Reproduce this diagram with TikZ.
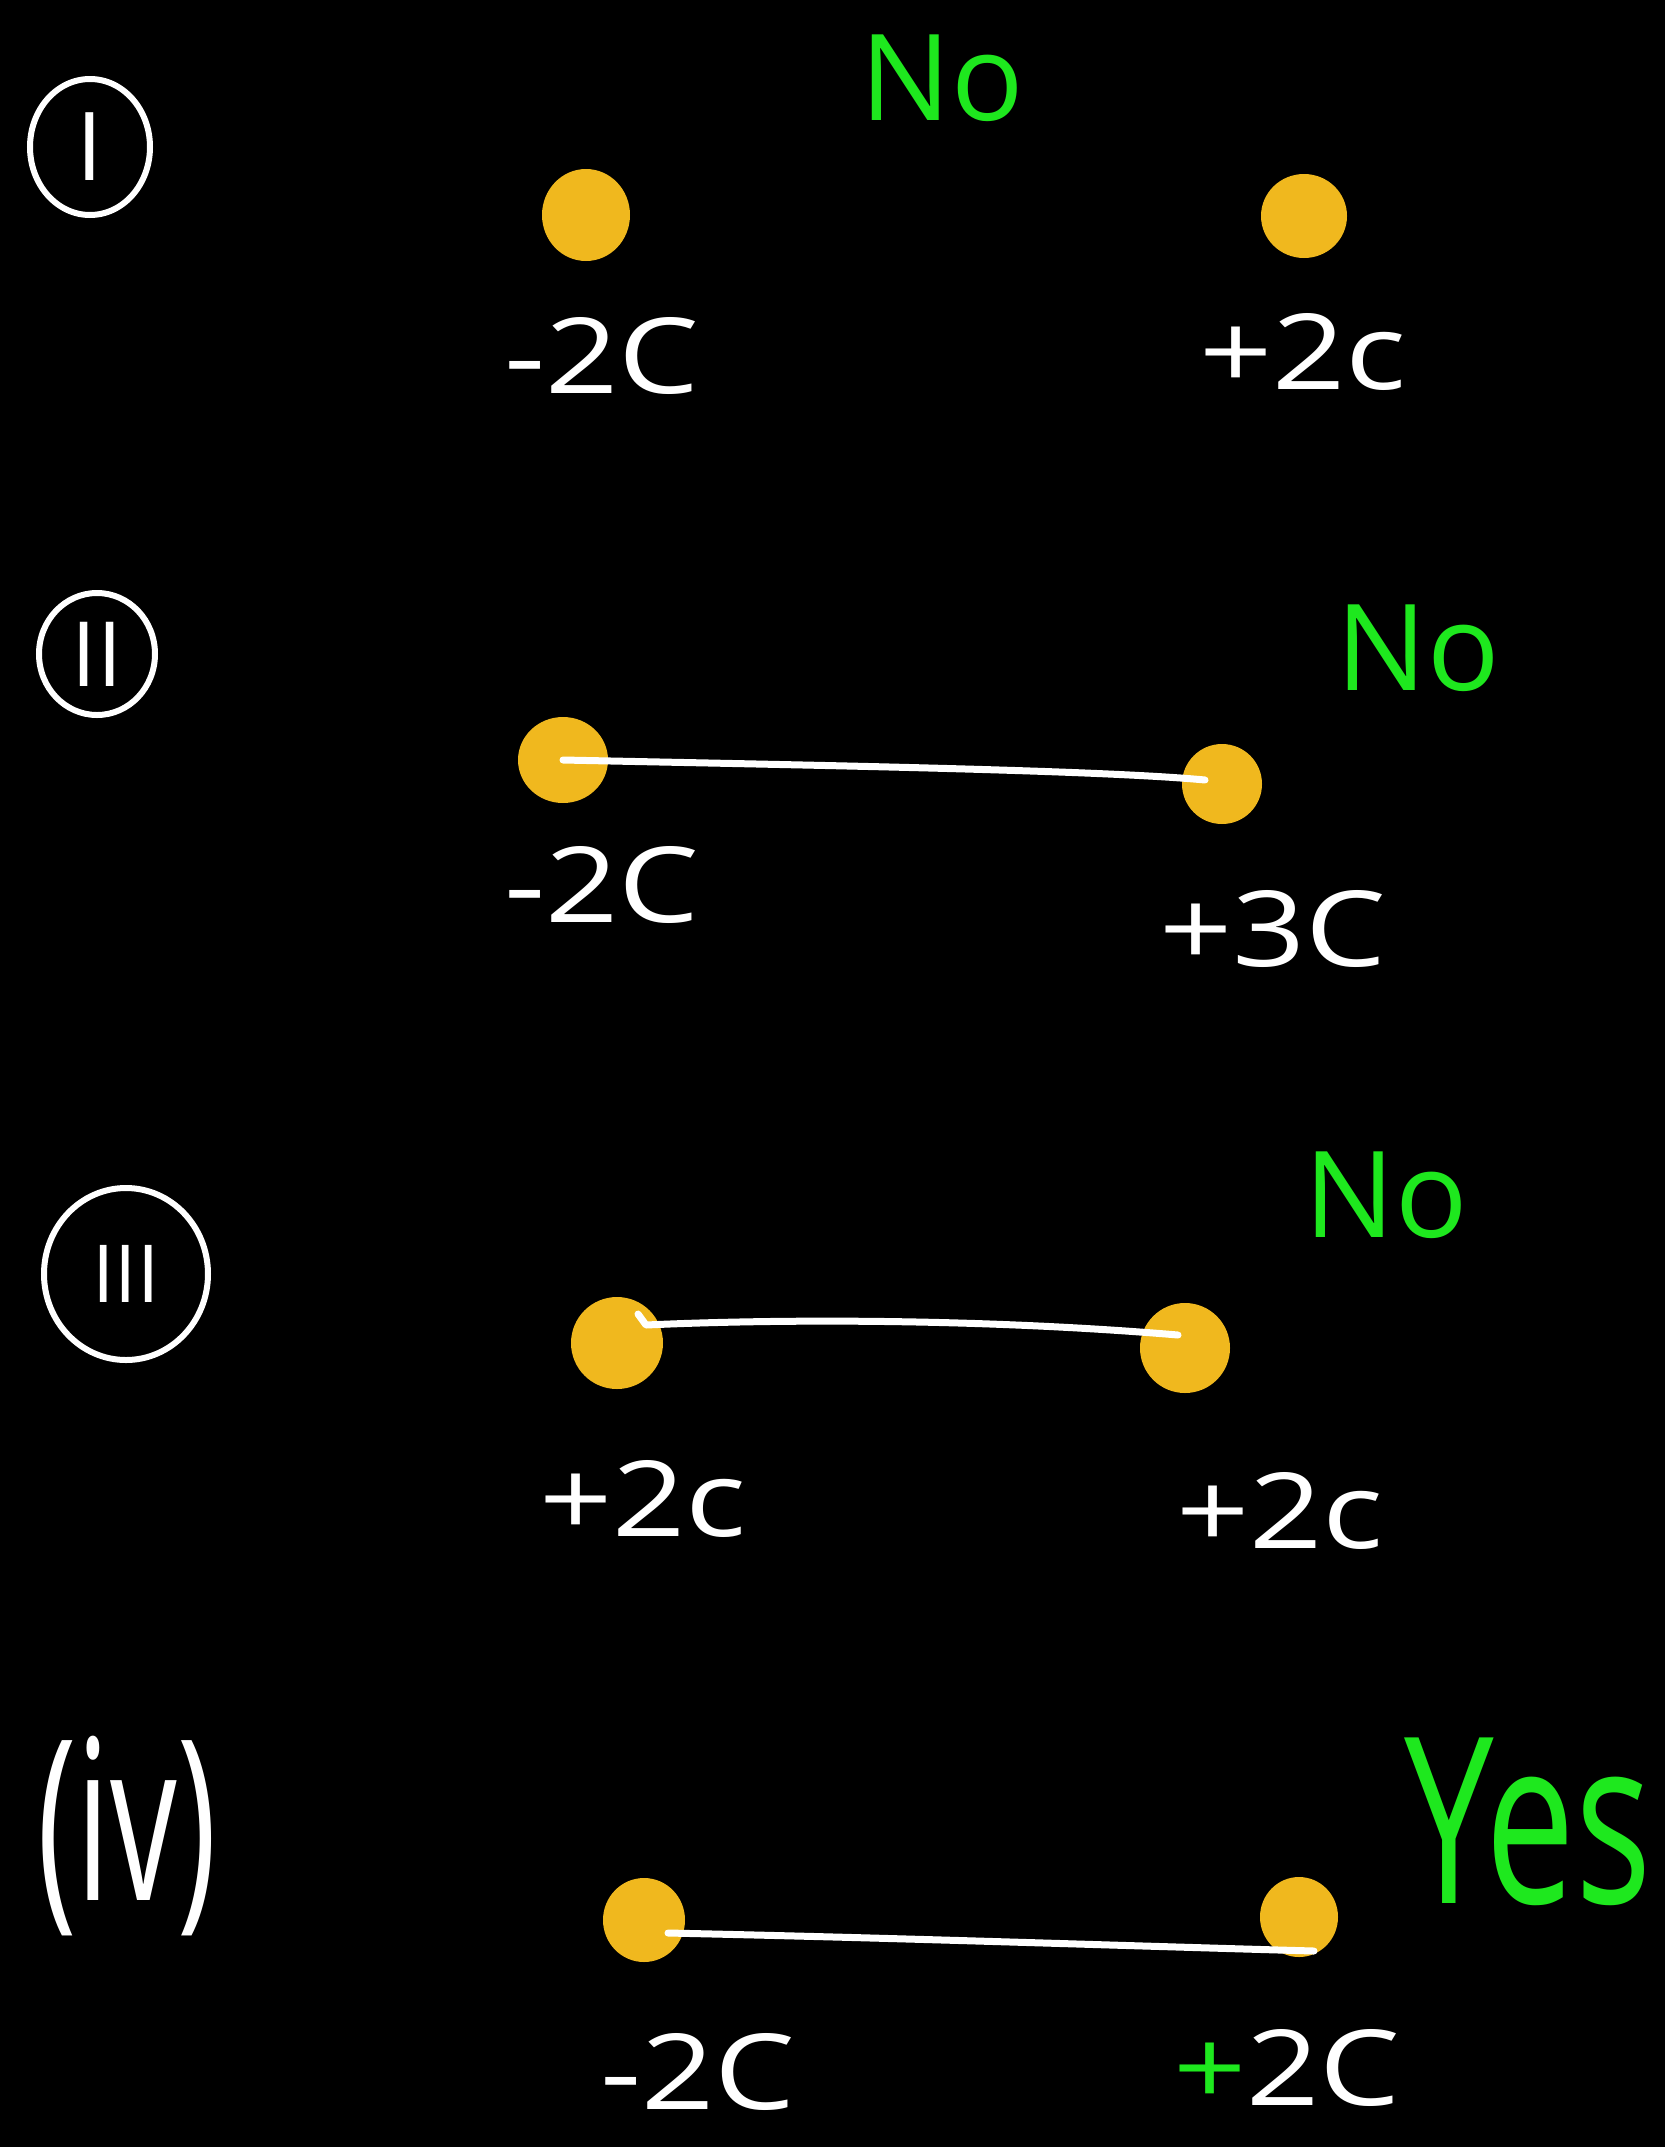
\documentclass[tikz,border=0pt]{standalone}
\usepackage{fontspec}
\setmainfont{Open Sans}
\usetikzlibrary{shapes.geometric}
\definecolor{chg}{HTML}{F0B81E}
\definecolor{ink}{HTML}{1EE81E}
\newcommand\myfs[1]{\fontsize{#1}{#1}\selectfont}
\newcommand\wide[1]{\scalebox{1.22}[1]{#1}}
\begin{document}
\begin{tikzpicture}[x=1pt,y=-1pt,
 dot/.style={ellipse, fill=chg, inner sep=0pt},
 wire/.style={white, line width=7pt, line cap=round, line join=round},
 lab/.style={white, inner sep=0pt, font=\myfs{105}},
 verdict/.style={ink, inner sep=0pt, font=\myfs{120}},
 numring/.style={ellipse, draw=white, line width=6pt, text=white, inner sep=0pt}]
\fill[black] (0,0) rectangle (1665,2147);
\useasboundingbox (0,0) rectangle (1665,2147);

% row 1
\node[numring, minimum width=120, minimum height=136, font=\myfs{95}] (n1) at (90,147) {I};
\node[dot, minimum width=88, minimum height=92] (d1a) at (586,215) {};
\node[dot, minimum width=86, minimum height=84] (d1b) at (1304,216) {};
\node[lab] (l1a) at (602,356) {\wide{-2C}};
\node[lab] (l1b) at (1303,352) {\wide{+2c}};
\node[verdict] (v1) at (942,78) {No};

% row 2
\node[numring, minimum width=116, minimum height=122, font=\myfs{90}] (n2) at (97,654) {II};
\node[dot, minimum width=90, minimum height=86] (d2a) at (563,760) {};
\node[dot, minimum width=80, minimum height=80] (d2b) at (1222,784) {};
\draw[wire] (d2a.center) .. controls (800,765) and (1100,770) .. ([shift={(-17,-4)}]d2b.center);
\node[lab] (l2a) at (602,885) {\wide{-2C}};
\node[lab] (l2b) at (1273,929) {\wide{+3C}};
\node[verdict] (v2) at (1418,648) {No};

% row 3
\node[numring, minimum width=164, minimum height=172, font=\myfs{80}] (n3) at (126,1274) {III};
\node[dot, minimum width=92, minimum height=92] (d3a) at (617,1343) {};
\node[dot, minimum width=90, minimum height=90] (d3b) at (1185,1348) {};
\draw[wire] ([shift={(21,-29)}]d3a.center) -- ([shift={(29,-18)}]d3a.center) .. controls (800,1318) and (1000,1320) .. ([shift={(-7,-13)}]d3b.center);
\node[lab] (l3a) at (643,1499) {\wide{+2c}};
\node[lab] (l3b) at (1280,1511) {\wide{+2c}};
\node[verdict] (v3) at (1386,1195) {No};

% row 4
\node[white, inner sep=0pt, font=\myfs{140}] (n4) at (127,1836) {\scalebox{0.95}[1.6]{(iv)}};
\node[dot, minimum width=82, minimum height=84] (d4a) at (644,1920) {};
\node[dot, minimum width=78, minimum height=80] (d4b) at (1299,1917) {};
\draw[wire] ([shift={(24,13)}]d4a.center) .. controls (900,1938) and (1100,1945) .. ([shift={(15,34)}]d4b.center);
\node[lab] (l4a) at (698,2072) {\wide{-2C}};
\node[lab] (l4b) at (1287,2068) {\wide{\textcolor{ink}{+}2C}};
\node[ink, inner sep=0pt, font=\myfs{160}] (v4) at (1528,1822) {\scalebox{1}[1.45]{Yes}};
\end{tikzpicture}
\end{document}
